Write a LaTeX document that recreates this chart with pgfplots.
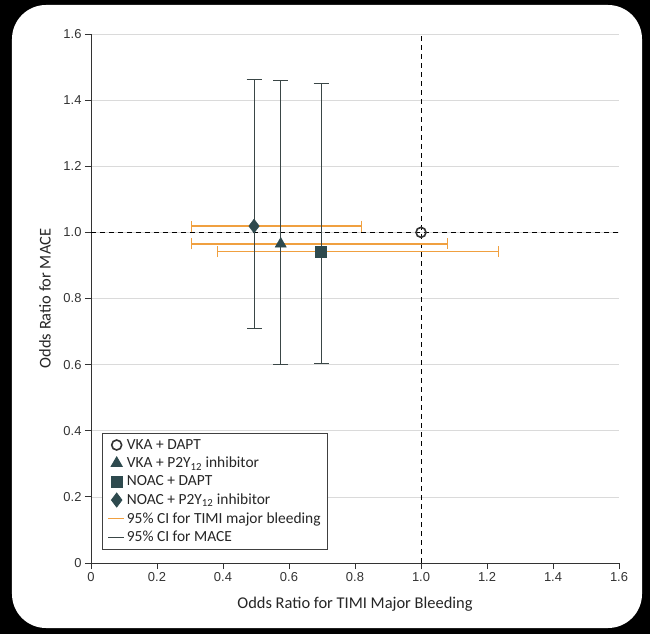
\documentclass[border=0pt]{standalone}
\usepackage{fontspec}
\setmainfont{Carlito}
\newfontfamily\tickfont{Liberation Sans}
\usepackage{pgfplots}
\usepackage{pgfplotstable}
\pgfplotsset{compat=1.18}
\definecolor{timiorange}{RGB}{240,160,64}
\definecolor{barc}{HTML}{3A4646}
\definecolor{mk}{HTML}{2E4A4E}
\definecolor{gridc}{HTML}{DADADA}

% x = OR TIMI bleeding, y = OR MACE, with 95% CI ends
\pgfplotstableread{
x y xlo xhi ylo yhi
0.575 0.965 0.305 1.081 0.601 1.460
}\vkapy
\pgfplotstableread{
x y xlo xhi ylo yhi
0.697 0.942 0.384 1.234 0.603 1.449
}\noacdapt
\pgfplotstableread{
x y xlo xhi ylo yhi
0.494 1.019 0.305 0.820 0.709 1.463
}\noacpy

\pgfplotsset{
  timi/.style={color=timiorange,line width=1.6pt,mark=none,forget plot,
    error bars/.cd,x dir=both,x explicit,error mark=|,
    error bar style={color=timiorange,line width=1.6pt},
    error mark options={color=timiorange,mark size=5.5bp,line width=1.4pt}},
  mace/.style={color=barc,line width=1pt,mark=none,forget plot,
    error bars/.cd,y dir=both,y explicit,error mark=|,
    error bar style={color=barc,line width=1pt},
    error mark options={color=barc,mark size=7.5bp,line width=1pt}},
  table/timiT/.style={x=x,y=y,
    x error plus expr=\thisrow{xhi}-\thisrow{x},
    x error minus expr=\thisrow{x}-\thisrow{xlo}},
  table/maceT/.style={x=x,y=y,
    y error plus expr=\thisrow{yhi}-\thisrow{y},
    y error minus expr=\thisrow{y}-\thisrow{ylo}},
  shortline/.style={legend image code/.code={\draw[##1] (0bp,0bp) -- (16bp,0bp);}}
}

\begin{document}
\begin{tikzpicture}
\fill[black] (-91bp,-71bp) rectangle (559bp,563bp);
\fill[white,rounded corners=34bp] (-79bp,-65bp) rectangle (551bp,558bp);
\begin{axis}[
  at={(0,0)},anchor=south west,
  scale only axis,width=528bp,height=529bp,
  xmin=0,xmax=1.6,ymin=0,ymax=1.6,
  axis x line*=bottom,axis y line*=left,
  axis line style={black!80,line width=0.8pt,-},
  tick align=outside,major tick length=6bp,
  tick style={black!80,line width=0.8pt},
  xtick={0,0.2,...,1.6},ytick={0,0.2,...,1.6},
  xticklabels={0,0.2,0.4,0.6,0.8,1.0,1.2,1.4,1.6},
  yticklabels={0,0.2,0.4,0.6,0.8,1.0,1.2,1.4,1.6},
  ticklabel style={font=\tickfont\fontsize{13}{15}\selectfont,text=black!80},
  ymajorgrids,grid style={gridc,line width=0.7pt},
  xlabel={Odds Ratio for TIMI Major Bleeding},
  ylabel={Odds Ratio for MACE},
  label style={font=\fontsize{16.5}{18}\selectfont,text=black!85},
  xlabel style={at={(axis description cs:0.5,-0.078)},anchor=center},
  ylabel style={at={(axis description cs:-0.087,0.5)},anchor=center},
  legend style={at={(0.021,0.025)},anchor=south west,draw=black!75,
    line width=0.8pt,font=\fontsize{15.5}{16}\selectfont,text=black!85,
    row sep=2.5bp,inner xsep=5bp,inner ysep=4bp},
  legend cell align=left,
  clip=false
]
\addplot[black,dashed,line width=0.9pt,dash pattern=on 5bp off 4bp,forget plot] coordinates {(0,1) (1.6,1)};
\addplot[black,dashed,line width=0.9pt,dash pattern=on 5bp off 4bp,forget plot] coordinates {(1,0) (1,1.6)};

% TIMI bleeding CIs
\addplot[timi] table[timiT] {\vkapy};
\addplot[timi] table[timiT] {\noacdapt};
\addplot[timi] table[timiT] {\noacpy};
% MACE CIs
\addplot[mace] table[maceT] {\vkapy};
\addplot[mace] table[maceT] {\noacdapt};
\addplot[mace] table[maceT] {\noacpy};

\addplot[only marks,mark=o,mark size=5bp,mark options={draw=black!80,fill=white,line width=1.6pt}] coordinates {(1.0,1.0)};
\addlegendentry{VKA + DAPT}
\addplot[only marks,mark=triangle*,mark size=6.5bp,mark options={draw=mk,fill=mk}] table[x=x,y=y] {\vkapy};
\addlegendentry{VKA + P2Y\textsubscript{12} inhibitor}
\addplot[only marks,mark=square*,mark size=5.5bp,mark options={draw=mk,fill=mk}] table[x=x,y=y] {\noacdapt};
\addlegendentry{NOAC + DAPT}
\addplot[only marks,mark=diamond*,mark size=7bp,mark options={draw=mk,fill=mk}] table[x=x,y=y] {\noacpy};
\addlegendentry{NOAC + P2Y\textsubscript{12} inhibitor}
\addlegendimage{color=timiorange,line width=1.4pt,shortline}
\addlegendentry{95\% CI for TIMI major bleeding}
\addlegendimage{color=barc,line width=1pt,shortline}
\addlegendentry{95\% CI for MACE}
\end{axis}
\end{tikzpicture}
\end{document}
